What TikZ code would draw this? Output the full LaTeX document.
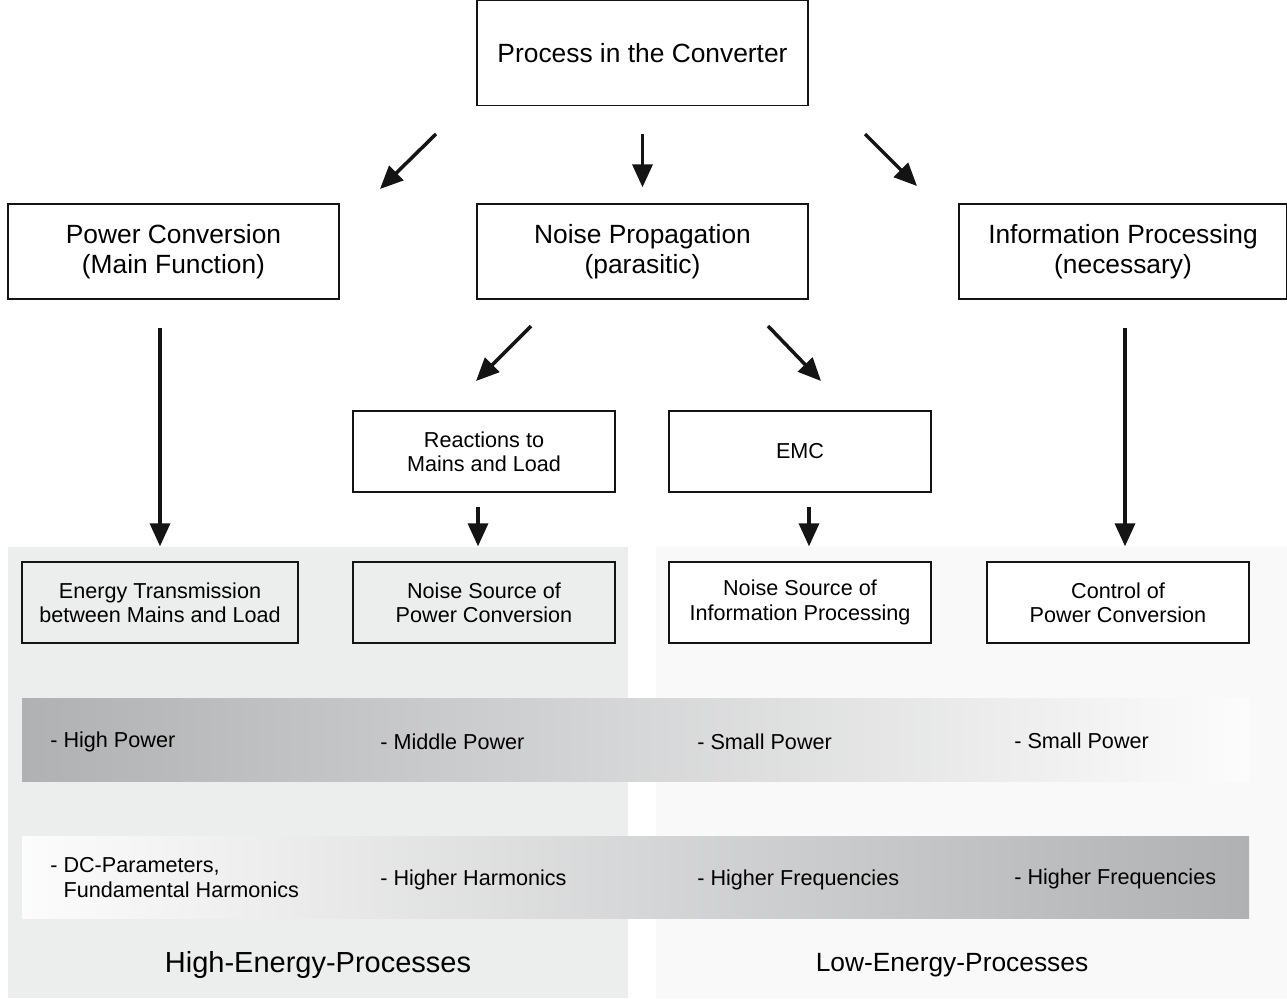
\documentclass[tikz,border=0pt]{standalone}
\usepackage{fontspec}
\setmainfont{Liberation Sans}
\usetikzlibrary{positioning, arrows.meta, calc}
\definecolor{ink}{RGB}{20,20,20}
\definecolor{highpanel}{RGB}{236,238,237}
\definecolor{lowpanel}{RGB}{249,249,249}
\definecolor{bardark}{RGB}{176,177,179}
\definecolor{barlight}{RGB}{252,252,252}

\begin{document}
\begin{tikzpicture}[x=0.02cm, y=-0.02cm,
    big/.style={draw=ink, line width=0.8pt, fill=white, align=center, inner sep=0pt,
                font=\fontsize{15}{17}\selectfont, minimum width=6.62cm, minimum height=1.9cm},
    small/.style={big, font=\fontsize{12.3}{13.8}\selectfont, minimum width=5.24cm, minimum height=1.62cm},
    tag/.style={anchor=west, inner sep=0pt, align=left, font=\fontsize{12.3}{14.2}\selectfont},
    group/.style={inner sep=0pt, font=\fontsize{16.5}{20}\selectfont},
    arr/.style={-{Triangle[length=0.46cm, width=0.4cm]}, line width=2pt, draw=ink}
  ]
  \useasboundingbox (0,0) rectangle (1287,998);
  % energy levels in the background
  \fill[highpanel] (8,547) rectangle (628,998);
  \fill[lowpanel] (656,547) rectangle (1287,998);
  \shade[left color=bardark, right color=barlight] (22,698) rectangle (1249,781);
  \shade[left color=barlight, right color=bardark] (22,836) rectangle (1249,918);

  % boxes
  \node[big, minimum height=2.1cm] (proc) at (642.5,53) {Process in the Converter};
  \node[big] (power) at (173.5,251.5) {Power Conversion\\(Main Function)};
  \node[big] (noise) at (642.5,251.5) {Noise Propagation\\(parasitic)};
  \node[big, minimum width=6.56cm] (info) at (1123,251.5) {Information Processing\\(necessary)};
  \node[small] (react) at (484,451.5) {Reactions to\\Mains and Load};
  \node[small] (emc) at (800,451.5) {EMC};
  \node[small, minimum width=5.52cm, fill=highpanel] (energy) at (160,602.5) {Energy Transmission\\between Mains and Load};
  \node[small, fill=highpanel] (srcpow) at (484,602.5) {Noise Source of\\Power Conversion};
  \node[small] (srcinfo) at (800,602.5) {Noise Source of\\Information Processing};
  \node[small] (ctrl) at (1118,602.5) {Control of\\Power Conversion};

  % power and frequency ranges
  \node[tag] (hipow) at (50,742) {- High Power};
  \node[tag] (midpow) at (380,742) {- Middle Power};
  \node[tag] (smpowa) at (697,742) {- Small Power};
  \node[tag] (smpowb) at (1014,741) {- Small Power};
  \node[tag] (dcpar) at (50,878) {- DC-Parameters,\\\hphantom{- }Fundamental Harmonics};
  \node[tag] (hiharm) at (380,880) {- Higher Harmonics};
  \node[tag] (hifrqa) at (697,880) {- Higher Frequencies};
  \node[tag] (hifrqb) at (1014,879) {- Higher Frequencies};
  \node[group] (high) at (318,965) {High-Energy-Processes};
  \node[group, font=\fontsize{15}{18}\selectfont] (low) at (952,965) {Low-Energy-Processes};

  % arrows
  \coordinate (a1) at (436,134);
  \coordinate (b1) at (380,189);
  \coordinate (a2) at (865,134);
  \coordinate (b2) at (917,186);
  \coordinate (a3) at (531,326);
  \coordinate (b3) at (476,381);
  \coordinate (a4) at (768,326);
  \coordinate (b4) at (821,381);
  \draw[arr] (a1) -- (b1);
  \draw[arr] (a2) -- (b2);
  \draw[arr] (a3) -- (b3);
  \draw[arr] (a4) -- (b4);
  \draw[arr, shorten <=0.56cm, shorten >=0.32cm] (proc.south) -- (noise.north);
  \draw[arr, shorten <=0.56cm, shorten >=0.3cm] (power.south -| energy.north) -- (energy.north);
  \draw[arr, shorten <=0.56cm, shorten >=0.3cm] ([xshift=0.04cm]info.south) -- ([xshift=0.04cm]info.south |- ctrl.north);
  \draw[arr, shorten <=0.28cm, shorten >=0.3cm] ([xshift=-0.12cm]react.south) -- ([xshift=-0.12cm]srcpow.north);
  \draw[arr, shorten <=0.28cm, shorten >=0.3cm] ([xshift=0.18cm]emc.south) -- ([xshift=0.18cm]srcinfo.north);
\end{tikzpicture}
\end{document}
